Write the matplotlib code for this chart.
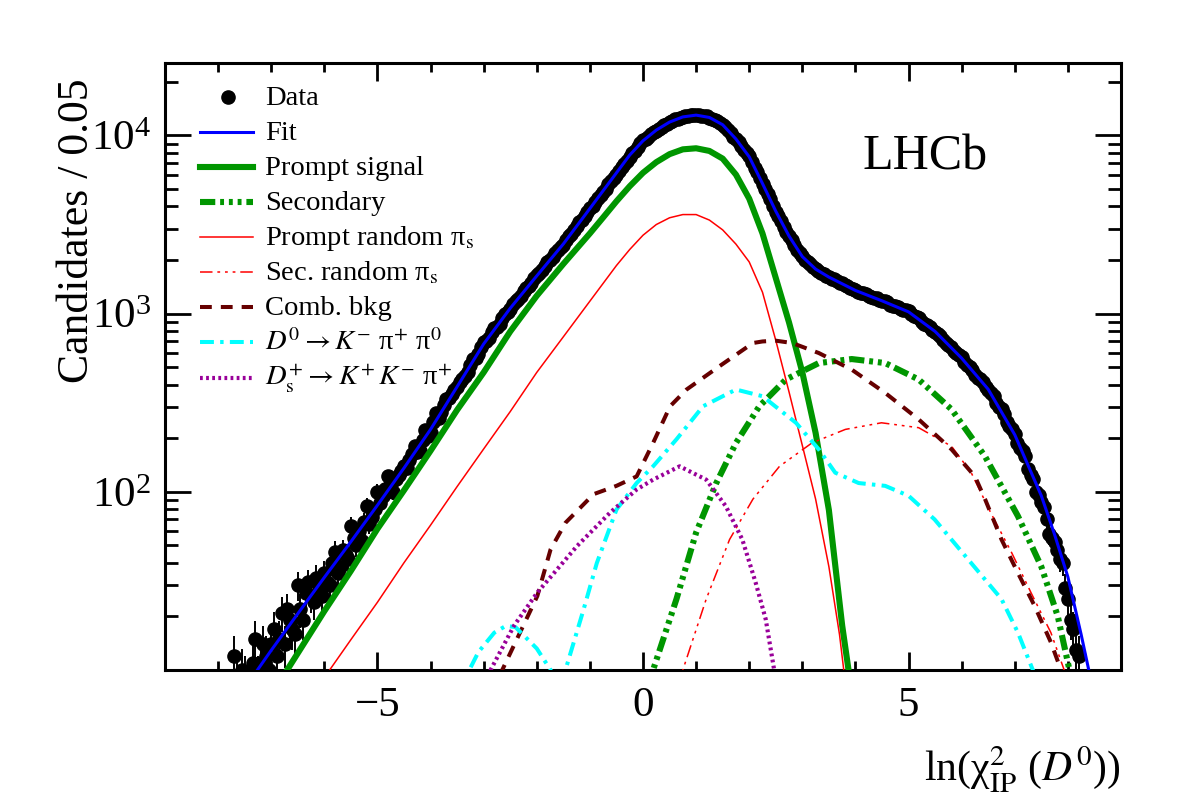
import numpy as np
import matplotlib
matplotlib.use("Agg")
import matplotlib.pyplot as plt
from matplotlib.ticker import LogLocator, MultipleLocator, NullFormatter, FixedLocator

plt.rcParams['font.family'] = ['Liberation Serif', 'DejaVu Serif']
plt.rcParams['mathtext.fontset'] = 'stix'
plt.rcParams['lines.scale_dashes'] = False

# ---------------- data (bin centres every 0.05, candidates per 0.05) ----------------
data_x = np.linspace(-7.7, 8.2, 319)
data_y = [12, 9, 7, 10, 9, 7, 8, 11, 15, 9,
          11, 14, 12, 10, 14, 17, 12, 15, 21, 14,
          22, 19, 17, 16, 30, 22, 19, 27, 31, 26,
          24, 33, 28, 26, 35, 31, 30, 40, 46, 35,
          38, 47, 44, 42, 64, 55, 50, 60, 53, 68,
          83, 66, 72, 80, 100, 86, 95, 104, 122, 110,
          100, 118, 125, 131, 140, 136, 151, 163, 180, 168,
          170, 196, 222, 205, 215, 245, 277, 258, 280, 308,
          330, 335, 352, 372, 385, 412, 430, 448, 470, 518,
          555, 565, 590, 650, 690, 702, 730, 785, 830, 840,
          880, 945, 990, 1015, 1060, 1130, 1180, 1205, 1250, 1335,
          1390, 1425, 1480, 1575, 1650, 1690, 1750, 1850, 1940, 1995,
          2070, 2185, 2290, 2360, 2440, 2590, 2720, 2805, 2930, 3110,
          3260, 3370, 3520, 3740, 3920, 4040, 4220, 4450, 4660, 4820,
          5030, 5310, 5550, 5740, 6000, 6340, 6620, 6880, 7180, 7580,
          7920, 8220, 8600, 9020, 9470, 9600, 9850, 10150, 10400, 10560,
          10800, 11150, 11400, 11580, 11850, 12120, 12300, 12380, 12550, 12760,
          12880, 12850, 12940, 13050, 13080, 12960, 12900, 12920, 12800, 12580,
          12430, 12280, 12060, 11720, 11440, 11140, 10760, 10300, 9850, 9540,
          9160, 8700, 8280, 7970, 7620, 7060, 6580, 6200, 5790, 5330,
          4980, 4700, 4390, 4020, 3740, 3530, 3290, 3050, 2870, 2720,
          2590, 2420, 2280, 2200, 2100, 2010, 1940, 1890, 1830, 1770,
          1730, 1690, 1670, 1630, 1595, 1570, 1560, 1515, 1490, 1480,
          1455, 1420, 1390, 1375, 1360, 1320, 1305, 1300, 1290, 1255,
          1240, 1230, 1225, 1190, 1170, 1180, 1160, 1125, 1105, 1110,
          1095, 1060, 1045, 1050, 1030, 990, 970, 960, 940, 900,
          875, 862, 840, 808, 790, 768, 748, 712, 686, 670,
          652, 620, 598, 585, 568, 536, 514, 502, 484, 455,
          438, 428, 412, 385, 372, 360, 343, 315, 298, 290,
          272, 248, 233, 226, 212, 188, 176, 170, 158, 135,
          125, 118, 100, 96, 88, 82, 70, 58, 55, 52,
          47, 42, 40, 29, 25, 19, 17, 13, 12]
assert len(data_y) == len(data_x)
data_y = np.array(data_y, dtype=float)

# ---------------- fit components ----------------
fit_x = [-7.5, -7.0, -6.5, -6.0, -5.5, -5.0, -4.5, -4.0, -3.5, -3.0, -2.5, -2.0, -1.5, -1.0,
         -0.5, -0.25, 0.0, 0.25, 0.5, 0.75, 1.0, 1.25, 1.5, 1.75, 2.0, 2.25, 2.5, 2.75, 3.0,
         3.25, 3.5, 4.0, 4.5, 5.0, 5.5, 6.0, 6.5, 7.0, 7.5, 7.75, 8.0, 8.25, 8.5]
fit_y = [7.9, 12.9, 20.7, 33.1, 52.5, 84.1, 136, 224, 389, 676, 1072, 1629, 2460, 3890,
         6166, 7762, 9333, 10715, 11885, 12706, 13002, 12618, 11482, 9550, 7586, 5370, 3758,
         2723, 2089, 1778, 1603, 1349, 1180, 1023, 794, 562, 376, 209, 95, 57.5, 33.3, 15.8,
         7.1]

prompt_x = [-6.9, -6.7, -6.0, -5.5, -5.0, -4.5, -4.0, -3.5, -3.0, -2.5, -2.0, -1.5, -1.0,
            -0.75, -0.5, -0.25, 0.0, 0.25, 0.5, 0.75, 1.0, 1.25, 1.5, 1.75, 2.0, 2.25, 2.5,
            2.75, 3.0, 3.25, 3.5, 3.75, 3.87, 3.95]
prompt_y = [8.1, 10, 21.4, 36, 62, 102, 170, 288, 468, 794, 1260, 1900, 2820,
            3467, 4270, 5188, 6170, 7079, 7852, 8356, 8472, 8185, 7413, 6026, 4416, 2818, 1585,
            891, 468, 214, 79, 17.8, 10, 5.6]

sec_x = [0.12, 0.19, 0.63, 1.0, 1.38, 1.75, 2.19, 2.69, 3.31, 3.93, 4.56, 5.19, 5.81,
         6.44, 7.06, 7.5, 7.81, 8.03, 8.1]
sec_y = [7.1, 10, 25, 59, 112, 188, 302, 427, 528, 556, 528, 427, 290,
         158, 73, 38, 20, 10, 7.1]

prand_x = [-6.1, -5.9, -5.5, -5.0, -4.5, -4.0, -3.5, -3.0, -2.5, -2.0, -1.5, -1.0, -0.5,
           -0.25, 0.0, 0.25, 0.5, 0.75, 1.0, 1.25, 1.5, 1.75, 2.0, 2.25, 2.5, 2.75, 3.0,
           3.25, 3.5, 3.7, 3.78, 3.85]
prand_y = [8.1, 10, 14.8, 24, 40, 65, 107, 174, 282, 468, 741, 1175, 1862,
           2291, 2754, 3162, 3451, 3597, 3597, 3350, 2951, 2455, 1950, 1318, 708, 363, 182,
           91, 38, 15.8, 10, 6.3]

srand_x = [0.68, 0.75, 1.19, 1.63, 2.07, 2.57, 3.18, 3.81, 4.49, 5.19, 5.81, 6.18, 6.55,
           6.94, 7.31, 7.68, 7.93, 8.0]
srand_y = [7.1, 10, 25, 54, 91, 139, 188, 224, 244, 229, 180, 128, 76,
           45.6, 27, 16.2, 10, 7.9]

comb_x = [-2.75, -2.65, -1.99, -1.74, -1.46, -0.93, -0.5, -0.12, 0.19, 0.51, 0.82, 1.44,
          2.07, 2.25, 2.5, 2.81, 3.31, 3.93, 4.56, 5.19, 5.81, 6.25, 6.44, 6.75, 7.06, 7.37,
          7.68, 7.87, 7.95]
comb_y = [7.1, 10, 26, 47.5, 67, 97, 108, 122, 188, 302, 375, 507,
          684, 698, 705, 684, 601, 485, 359, 255, 173, 122, 91, 54, 35, 23,
          14.3, 10, 7.9]

kpipi0_x = [-3.35, -3.27, -3.1, -2.8, -2.58, -2.4, -2.0, -1.74, -1.6, -1.46, -1.12, -0.87,
            -0.5, -0.12, 0.19, 0.63, 1.13, 1.75, 2.25, 2.88, 3.31, 3.62, 4.06, 4.56, 5.0,
            5.49, 6.12, 6.75, 7.06, 7.34, 7.42]
kpipi0_y = [7.1, 10, 12.6, 16.2, 17.7, 17.4, 13.2, 10, 6.3, 10, 21.8, 39.8,
            79.4, 112, 139, 197, 302, 375, 344, 244, 173, 128, 112, 108, 95,
            70, 41.8, 25, 16.2, 10, 7.9]

ds_x = [-2.95, -2.87, -2.43, -1.99, -1.24, -0.62, -0.12, 0.19, 0.69, 1.19, 1.56, 1.87,
        2.12, 2.31, 2.47, 2.55]
ds_y = [7.9, 10, 17.7, 27.2, 49.7, 76.4, 103, 117, 139, 117, 83, 54,
        31, 19.3, 10, 7.1]

labels = ["Data", "Fit", "Prompt signal", "Secondary",
          r"Prompt random π$_{\rm s}$", r"Sec. random π$_{\rm s}$", "Comb. bkg",
          r"$D^{0}\rightarrow K^{-}$ π$^{+}$ π$^{0}$",
          r"$D^{+}_{\rm s}\rightarrow K^{+}\,K^{-}$ π$^{+}$"]

# ---------------- styles ----------------
GREEN = '#009600'
DDD = (0, (11, 3.5, 2.8, 3.5, 2.8, 3.5, 2.8, 3.5))
styles = {
    "Fit": dict(color='#0000ff', lw=2.2, ls='-', zorder=6),
    "Prompt signal": dict(color=GREEN, lw=4.4, ls='-', zorder=4),
    "Secondary": dict(color=GREEN, lw=4.4, ls=DDD, zorder=4),
    "Prompt random": dict(color='#ff0000', lw=1.1, ls='-', zorder=4),
    "Sec. random": dict(color='#ff0000', lw=1.1, ls=(0, (9, 3.5, 2, 3.5, 2, 3.5, 2, 3.5)), zorder=4),
    "Comb": dict(color='#660000', lw=2.9, ls=(0, (8.5, 6.5)), zorder=4),
    "D0": dict(color='#00ffff', lw=2.9, ls=(0, (10, 4.5, 2.5, 4.5)), zorder=4),
    "Ds": dict(color='#990099', lw=3.0, ls=(0, (2.0, 2.4)), zorder=4),
}
curves = [(fit_x, fit_y, "Fit"), (prompt_x, prompt_y, "Prompt signal"),
          (sec_x, sec_y, "Secondary"), (prand_x, prand_y, "Prompt random"),
          (srand_x, srand_y, "Sec. random"), (comb_x, comb_y, "Comb"),
          (kpipi0_x, kpipi0_y, "D0"), (ds_x, ds_y, "Ds")]

W, H = 1182, 800
fig = plt.figure(figsize=(W / 100, H / 100), dpi=100)
ax = fig.add_axes([165 / W, 1 - 670 / H, (1121 - 165) / W, (670 - 62.7) / H])
ax.set_yscale('log')
ax.set_xlim(-9, 9)
ax.set_ylim(10, 2.56e4)

ax.errorbar(data_x, data_y, yerr=np.sqrt(data_y), fmt='o', color='k', ms=9.5,
            elinewidth=1.4, capsize=0, zorder=3)
for cx, cy, key in curves:
    ax.plot(cx, cy, **styles[key])

# ticks
ax.xaxis.set_major_locator(MultipleLocator(5))
ax.xaxis.set_minor_locator(MultipleLocator(1))
ax.yaxis.set_major_locator(FixedLocator([1e2, 1e3, 1e4]))
ax.yaxis.set_minor_locator(LogLocator(base=10, subs=np.arange(2, 10), numticks=30))
ax.yaxis.set_minor_formatter(NullFormatter())
ax.tick_params(which='both', direction='in', top=True, right=True, width=2.0, color='k')
ax.tick_params(axis='x', which='major', length=13, pad=12, labelsize=31)
ax.tick_params(axis='x', which='minor', length=6.5)
ax.tick_params(axis='y', which='major', length=19, pad=10, labelsize=31)
ax.tick_params(axis='y', which='minor', length=9.5)
for sp in ax.spines.values():
    sp.set_linewidth(2.2)

# axis titles
fig.text(88 / W, 1 - 78 / H, "Candidates / 0.05", rotation=90, rotation_mode='anchor',
         ha='right', va='baseline', fontsize=31.5)
fig.text(1120 / W, 1 - 782 / H, r"ln(χ$^{2}_{\rm IP}$ ($D^{0}$))", ha='right',
         va='baseline', fontsize=30)
fig.text(863 / W, 1 - 169 / H, "LHCb", ha='left', va='baseline', fontsize=36)

# legend (drawn by hand in figure pixels)
leg_keys = [None, "Fit", "Prompt signal", "Secondary", "Prompt random", "Sec. random",
            "Comb", "D0", "Ds"]
for i, (lab, key) in enumerate(zip(labels, leg_keys)):
    yc = 96.7 + i * 35.1
    yf = 1 - yc / H
    if key is None:
        fig.add_artist(plt.Line2D([227.7 / W], [yf], marker='o', ms=9.5, color='k',
                                  ls='none', transform=fig.transFigure))
    else:
        st = dict(styles[key])
        st.pop('zorder', None)
        fig.add_artist(plt.Line2D([200 / W, 253 / W], [yf, yf], transform=fig.transFigure,
                                  **st))
    fig.text(265 / W, 1 - (yc + 8) / H, lab, ha='left', va='baseline', fontsize=20.5)

fig.savefig("out.png", dpi=100)
